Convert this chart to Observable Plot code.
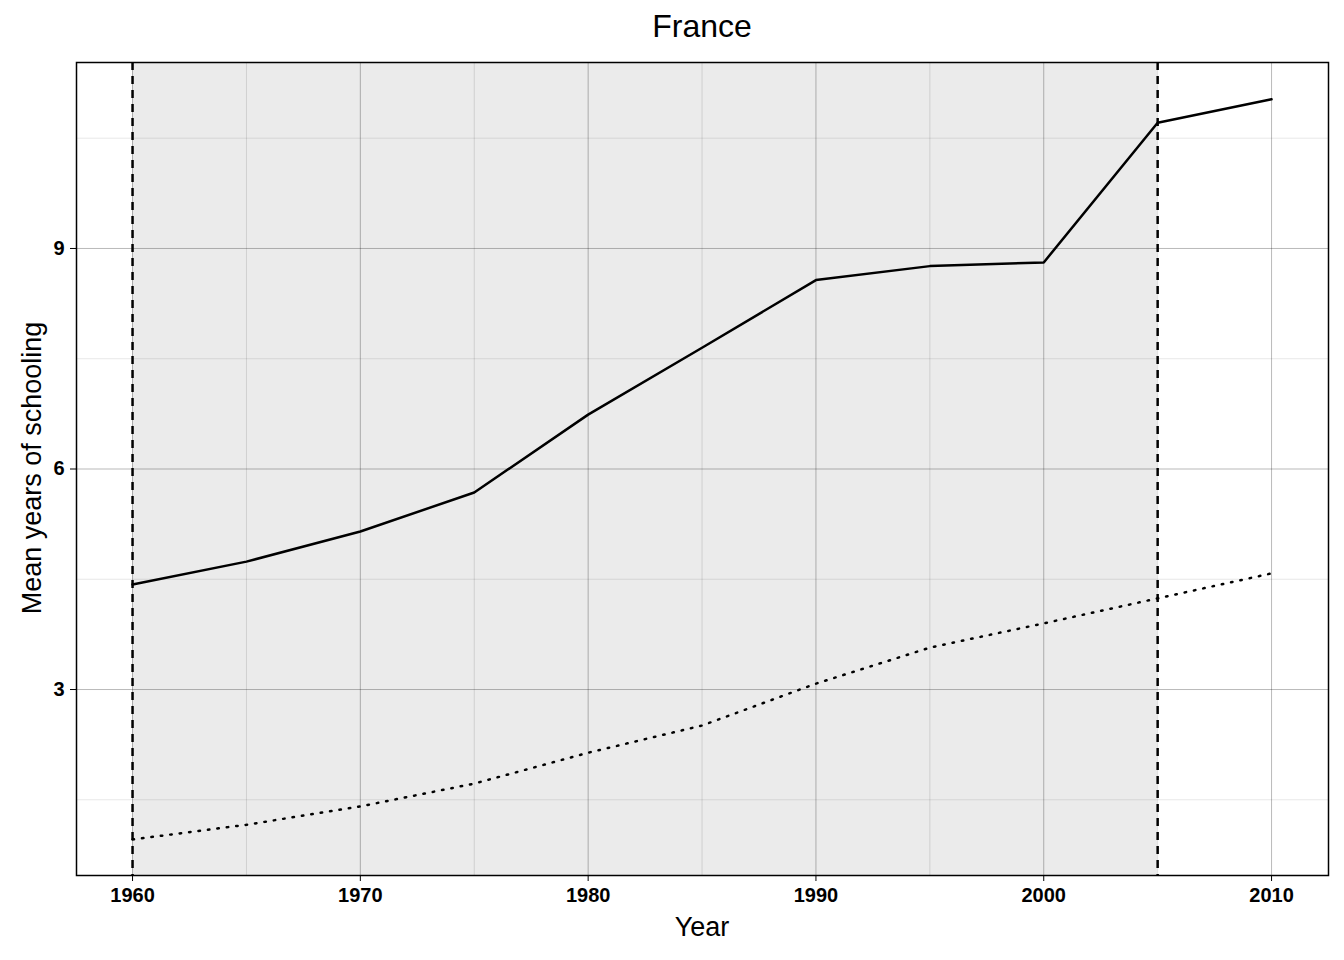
<!DOCTYPE html>
<html><head><meta charset="utf-8">
<script src="https://cdn.jsdelivr.net/npm/d3@7"></script>
<script src="https://cdn.jsdelivr.net/npm/@observablehq/plot@0.6"></script>
<style>
body{margin:0;background:#fff;font-family:"Liberation Sans",Arial,sans-serif;}
#wrap{position:relative;width:1344px;height:960px;}
#title{position:absolute;top:8px;left:76px;width:1252px;text-align:center;font-size:32px;}
#xlab{position:absolute;top:912px;left:76px;width:1252px;text-align:center;font-size:27px;}
#ylab{position:absolute;left:32px;top:468px;transform:translate(-50%,-50%) rotate(-90deg);white-space:nowrap;font-size:27px;}
</style></head>
<body><div id="wrap"><div id="chart"></div><div id="title">France</div><div id="xlab">Year</div><div id="ylab">Mean years of schooling</div></div>
<script>
const years = [1960,1965,1970,1975,1980,1985,1990,1995,2000,2005,2010];
const schooling = [4.43,4.74,5.15,5.68,6.74,7.65,8.57,8.76,8.81,10.71,11.03];
const dotted = [0.96,1.16,1.41,1.72,2.14,2.51,3.08,3.57,3.90,4.24,4.58];
const shadeStart = 1960, shadeEnd = 2005;
const xMajor = [1960,1970,1980,1990,2000,2010];
const xMinor = [1965,1975,1985,1995,2005];
const yMajor = [3,6,9];
const yMinor = [1.5,4.5,7.5,10.5];

const solid = years.map((y,i)=>({year:y, v:schooling[i]}));
const dots = years.map((y,i)=>({year:y, v:dotted[i]}));

const chart = Plot.plot({
  width:1344, height:960,
  marginTop:62, marginBottom:85, marginLeft:76, marginRight:16,
  style:{fontFamily:"Liberation Sans, Arial, sans-serif", fontSize:"20px", fontWeight:"bold", color:"black", background:"white"},
  x:{domain:[1957.54,2012.5], ticks:xMajor, tickFormat:d=>String(d), label:null, tickSize:6, tickPadding:6},
  y:{domain:[0.47,11.53], ticks:yMajor, label:null, tickSize:6, tickPadding:6},
  marks:[
    Plot.rectY([{a:shadeStart,b:shadeEnd}], {x1:"a", x2:"b", y1:0.47, y2:11.53, fill:"#ebebeb"}),
    Plot.ruleX(xMinor, {stroke:"#000", strokeOpacity:0.15, strokeWidth:0.8}),
    Plot.ruleY(yMinor, {stroke:"#000", strokeOpacity:0.12, strokeWidth:0.8}),
    Plot.ruleX(xMajor, {stroke:"#000", strokeOpacity:0.35, strokeWidth:0.8}),
    Plot.ruleY(yMajor, {stroke:"#000", strokeOpacity:0.35, strokeWidth:0.8}),
    Plot.ruleX([shadeStart, shadeEnd], {stroke:"black", strokeWidth:2.5, strokeDasharray:"8,6"}),
    Plot.line(solid, {x:"year", y:"v", stroke:"black", strokeWidth:2.5}),
    Plot.line(dots, {x:"year", y:"v", stroke:"black", strokeWidth:2.5, strokeDasharray:"1.5,8", strokeLinecap:"round"}),
    Plot.frame({stroke:"black", strokeWidth:1.5})
  ]
});
d3.select("#chart").append(()=>chart);
</script></body></html>
